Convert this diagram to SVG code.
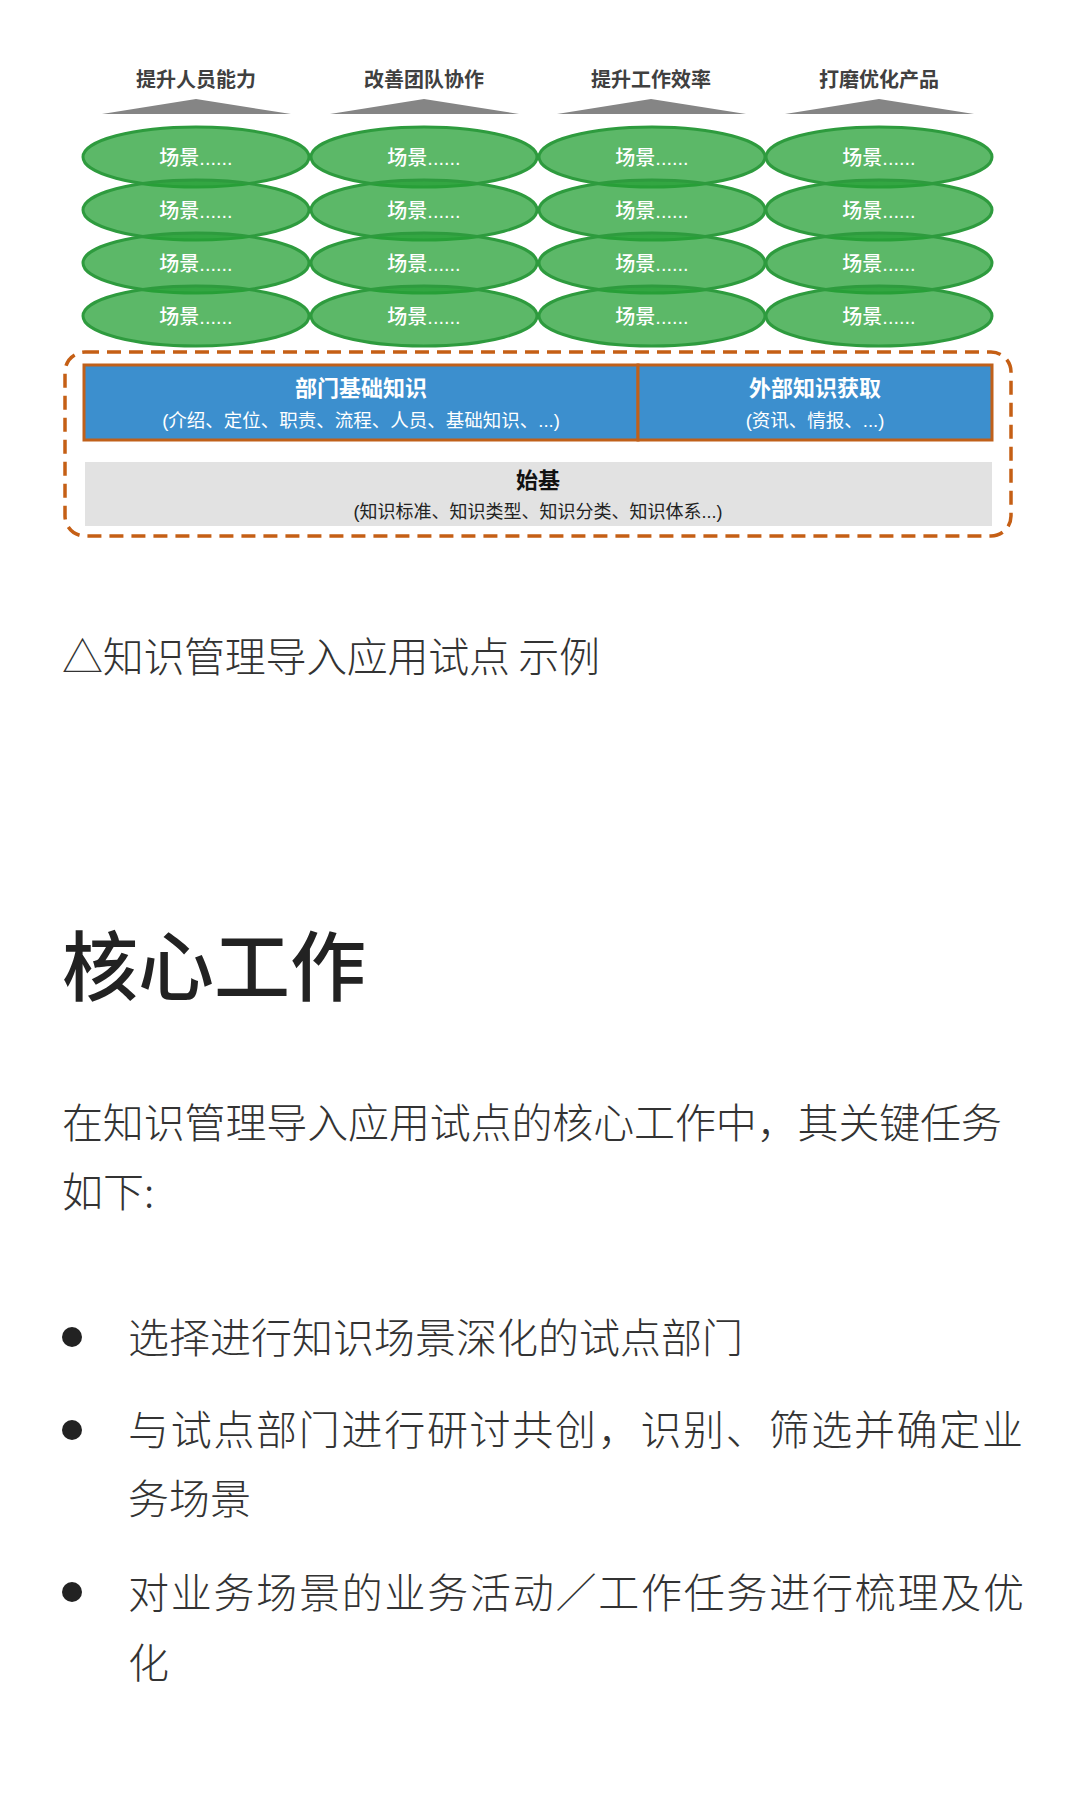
<svg xmlns="http://www.w3.org/2000/svg" width="1080" height="1800" viewBox="0 0 1080 1800">
<style>
.hd{font-family:"Noto Sans CJK SC",sans-serif;font-weight:700;font-size:20px;fill:#404040;text-anchor:middle}
.tri{fill:#858585}
.sc{fill:#26a035;fill-opacity:0.75;stroke:#2e9b3e;stroke-width:3}
.st{font-family:"Liberation Sans","Noto Sans CJK SC",sans-serif;font-size:20px;font-weight:500;fill:#ffffff;text-anchor:middle}
.bt{font-family:"Noto Sans CJK SC",sans-serif;font-weight:700;font-size:22px;fill:#ffffff;text-anchor:middle}
.bs{font-family:"Liberation Sans","Noto Sans CJK SC",sans-serif;font-size:18.5px;fill:#ffffff;text-anchor:middle}
.gt{font-family:"Noto Sans CJK SC",sans-serif;font-weight:700;font-size:22px;fill:#111111;text-anchor:middle}
.gs{font-family:"Liberation Sans","Noto Sans CJK SC",sans-serif;font-size:18px;fill:#222222;text-anchor:middle}
.body{font-family:"Noto Sans CJK SC",sans-serif;font-weight:300;font-size:41px;fill:#333333}
.h1{font-family:"Noto Sans CJK SC",sans-serif;font-weight:500;font-size:76px;fill:#222222}
.dot{fill:#222222}
</style>
<rect x="0" y="0" width="1080" height="1800" fill="#ffffff"/>

<g id="headings">
  <g id="h1"><text class="hd" x="196" y="87">提升人员能力</text><polygon class="tri" points="102,114 196,99 291,114"/></g>
  <g id="h2"><text class="hd" x="424" y="87">改善团队协作</text><polygon class="tri" points="330,114 424,99 519,114"/></g>
  <g id="h3"><text class="hd" x="651" y="87">提升工作效率</text><polygon class="tri" points="557,114 651,99 746,114"/></g>
  <g id="h4"><text class="hd" x="879" y="87">打磨优化产品</text><polygon class="tri" points="785,114 879,99 974,114"/></g>
</g>

<g id="scenes">
  <g id="r1">
    <g id="s11"><ellipse class="sc" cx="196" cy="157" rx="113" ry="30"/><text class="st" x="196" y="165">场景......</text></g>
    <g id="s12"><ellipse class="sc" cx="424" cy="157" rx="113" ry="30"/><text class="st" x="424" y="165">场景......</text></g>
    <g id="s13"><ellipse class="sc" cx="652" cy="157" rx="113" ry="30"/><text class="st" x="652" y="165">场景......</text></g>
    <g id="s14"><ellipse class="sc" cx="879" cy="157" rx="113" ry="30"/><text class="st" x="879" y="165">场景......</text></g>
  </g>
  <g id="r2">
    <g id="s21"><ellipse class="sc" cx="196" cy="210" rx="113" ry="30"/><text class="st" x="196" y="218">场景......</text></g>
    <g id="s22"><ellipse class="sc" cx="424" cy="210" rx="113" ry="30"/><text class="st" x="424" y="218">场景......</text></g>
    <g id="s23"><ellipse class="sc" cx="652" cy="210" rx="113" ry="30"/><text class="st" x="652" y="218">场景......</text></g>
    <g id="s24"><ellipse class="sc" cx="879" cy="210" rx="113" ry="30"/><text class="st" x="879" y="218">场景......</text></g>
  </g>
  <g id="r3">
    <g id="s31"><ellipse class="sc" cx="196" cy="263" rx="113" ry="30"/><text class="st" x="196" y="271">场景......</text></g>
    <g id="s32"><ellipse class="sc" cx="424" cy="263" rx="113" ry="30"/><text class="st" x="424" y="271">场景......</text></g>
    <g id="s33"><ellipse class="sc" cx="652" cy="263" rx="113" ry="30"/><text class="st" x="652" y="271">场景......</text></g>
    <g id="s34"><ellipse class="sc" cx="879" cy="263" rx="113" ry="30"/><text class="st" x="879" y="271">场景......</text></g>
  </g>
  <g id="r4">
    <g id="s41"><ellipse class="sc" cx="196" cy="316" rx="113" ry="30"/><text class="st" x="196" y="324">场景......</text></g>
    <g id="s42"><ellipse class="sc" cx="424" cy="316" rx="113" ry="30"/><text class="st" x="424" y="324">场景......</text></g>
    <g id="s43"><ellipse class="sc" cx="652" cy="316" rx="113" ry="30"/><text class="st" x="652" y="324">场景......</text></g>
    <g id="s44"><ellipse class="sc" cx="879" cy="316" rx="113" ry="30"/><text class="st" x="879" y="324">场景......</text></g>
  </g>
</g>

<g id="foundation">
  <rect id="dashed-frame" x="65" y="352" width="946" height="184" rx="20" ry="20" fill="none" stroke="#c55f15" stroke-width="3.5" stroke-dasharray="14 8"/>
  <g id="dept-knowledge">
    <rect x="84" y="365" width="554" height="75" fill="#3c8fce" stroke="#c0601a" stroke-width="3"/>
    <text class="bt" x="361" y="396">部门基础知识</text>
    <text class="bs" x="361" y="427">(介绍、定位、职责、流程、人员、基础知识、...)</text>
  </g>
  <g id="ext-knowledge">
    <rect x="638" y="365" width="354" height="75" fill="#3c8fce" stroke="#c0601a" stroke-width="3"/>
    <text class="bt" x="815" y="396">外部知识获取</text>
    <text class="bs" x="815" y="427">(资讯、情报、...)</text>
  </g>
  <g id="base">
    <rect x="85" y="462" width="907" height="64" fill="#e2e2e2"/>
    <text class="gt" x="538" y="488">始基</text>
    <text class="gs" x="538" y="518">(知识标准、知识类型、知识分类、知识体系...)</text>
  </g>
</g>

<g id="connectors"/>

<g id="article">
  <text class="body" x="62" y="672" font-size="40" textLength="538" lengthAdjust="spacing">△知识管理导入应用试点 示例</text>
  <text class="h1" x="62" y="995">核心工作</text>
  <text class="body" x="62" y="1138" textLength="940" lengthAdjust="spacing">在知识管理导入应用试点的核心工作中，其关键任务</text>
  <text class="body" x="62" y="1207">如下:</text>
  <circle class="dot" cx="72" cy="1337" r="10"/>
  <text class="body" x="128" y="1353">选择进行知识场景深化的试点部门</text>
  <circle class="dot" cx="72" cy="1430" r="10"/>
  <text class="body" x="128" y="1445" textLength="895" lengthAdjust="spacing">与试点部门进行研讨共创，识别、筛选并确定业</text>
  <text class="body" x="128" y="1514">务场景</text>
  <circle class="dot" cx="72" cy="1592" r="10"/>
  <text class="body" x="128" y="1608" textLength="896" lengthAdjust="spacing">对业务场景的业务活动／工作任务进行梳理及优</text>
  <text class="body" x="128" y="1678">化</text>
</g>
</svg>
